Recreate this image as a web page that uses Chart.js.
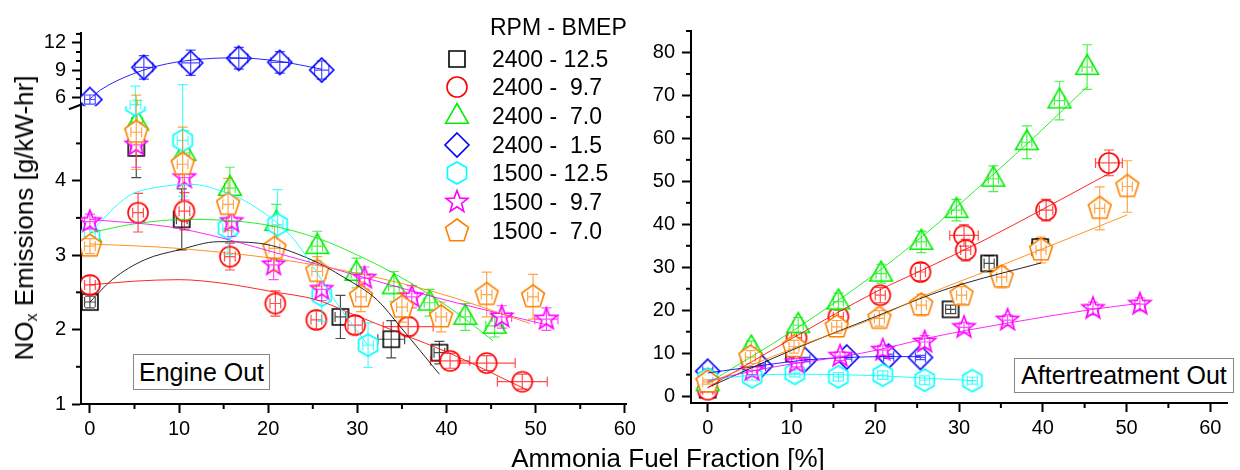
<!DOCTYPE html>
<html>
<head>
<meta charset="utf-8">
<script src="https://cdn.jsdelivr.net/npm/chart.js@4.4.1/dist/chart.umd.min.js"></script>
<style>
  body { margin: 0; background: #fff; width: 1240px; height: 470px; overflow: hidden; position: relative;
         font-family: "Liberation Sans", Arial, sans-serif; color: #000; }
  canvas { position: absolute; top: 0; }
  #eoCanvas { left: 0; }
  #atCanvas { left: 630px; }
  .ytitle { position: absolute; left: 25px; top: 218px; font-size: 26px; white-space: nowrap;
            transform: translate(-50%, -50%) rotate(-90deg); }
  .ytitle sub { font-size: 16px; vertical-align: -4px; }
  .xtitle { position: absolute; left: 668px; top: 458px; font-size: 26px; white-space: nowrap;
            transform: translate(-50%, -50%); }
  .box { position: absolute; box-sizing: border-box; border: 1px solid #888; background: #fff;
         font-size: 25px; display: flex; align-items: center; justify-content: center; white-space: nowrap; }
  .legText { position: absolute; font-size: 23px; white-space: pre; line-height: 28px; height: 28px; }
  .legMark { position: absolute; }
</style>
</head>
<body>
<canvas id="eoCanvas" width="640" height="445"></canvas>
<canvas id="atCanvas" width="610" height="445"></canvas>
<div class="ytitle">NO<sub>x</sub> Emissions [g/kW-hr]</div>
<div class="xtitle">Ammonia Fuel Fraction [%]</div>
<div class="box" style="left:133px;top:354px;width:137px;height:36px;">Engine Out</div>
<div class="box" style="left:1014px;top:358px;width:220px;height:35px;">Aftertreatment Out</div>
<div id="legend"></div>
<script>
// series (RPM - BMEP)
const legendTitle = 'RPM - BMEP';
const seriesLabels = ['2400 - 12.5', '2400 -  9.7', '2400 -  7.0', '2400 -  1.5', '1500 - 12.5', '1500 -  9.7', '1500 -  7.0'];
const seriesColors = ['#000000', '#ff0000', '#00ee00', '#0000ff', '#00ffff', '#ff00ff', '#ff8000'];
const seriesShapes = ['square', 'circle', 'triangle', 'diamond', 'hexagon', 'star', 'pentagon'];

// Engine out: [x, y, xErr, yErr]
const eo2400_125 = [[0,2.37,0.6,0.08],[5.2,4.44,0.6,0.4],[10.3,3.48,0.6,0.41],[28.1,2.17,0.6,0.29],[33.8,1.87,1.5,0.25],[39.2,1.69,0.6,0.15]];
const eo2400_97 = [[0,2.60,0.6,0.12],[5.4,3.57,0.6,0.26],[10.6,3.59,0.6,0.25],[15.7,2.98,0.6,0.18],[20.8,2.35,0.6,0.17],[25.4,2.13,0.6,0.12],[29.75,2.06,0.8,0.12],[35.7,2.04,2.8,0.12],[40.4,1.58,2.2,0.1],[44.5,1.55,3.2,0.1],[48.5,1.30,2.8,0.1]];
const eo2400_70 = [[0,3.28,0.6,0.15],[5.3,4.78,0.6,0.3],[10.6,4.37,0.6,0.3],[15.7,3.90,0.6,0.28],[20.9,3.43,0.6,0.25],[25.5,3.12,0.6,0.2],[29.9,2.76,0.6,0.2],[34.1,2.58,0.6,0.2],[38.1,2.36,0.6,0.18],[42.1,2.17,0.6,0.18],[45.4,2.05,1.0,0.15]];
const eo2400_15 = [[0,5.74,0.6,0.5],[6.05,9.3,1.0,1.3],[11.3,9.8,1.0,1.4],[16.7,10.3,1.0,1.2],[21.3,9.85,1.0,1.2],[26.0,9.0,0.8,1.0]];
const eo1500_125 = [[0,3.25,0.6,0.2],[5.1,5.02,0.6,0.25],[10.4,4.54,0.6,0.75],[15.5,3.36,0.6,0.35],[21.05,3.41,0.6,0.47],[26.0,2.46,0.6,0.35],[31.2,1.79,0.6,0.3]];
const eo1500_97 = [[0,3.45,0.6,0.1],[5.2,4.48,0.6,0.3],[10.6,4.04,0.6,0.3],[15.9,3.45,0.6,0.2],[20.6,2.87,0.6,0.2],[26.0,2.54,0.6,0.15],[30.8,2.69,0.6,0.15],[36.1,2.44,0.6,0.15],[46.2,2.17,1.1,0.15],[51.2,2.14,1.3,0.15]];
const eo1500_70 = [[0,3.12,0.6,0.1],[5.2,4.65,0.6,0.5],[10.4,4.22,0.6,0.5],[15.5,3.68,0.6,0.35],[20.7,3.09,0.6,0.3],[25.5,2.78,0.6,0.2],[30.4,2.44,0.6,0.2],[35.0,2.30,0.6,0.2],[39.4,2.17,0.6,0.2],[44.5,2.47,0.6,0.3],[49.7,2.44,0.6,0.3]];

// Engine out fit curves: [x, y]
const eoFit2400_125 = [[0,2.37],[2.5,2.67],[6.2,2.94],[10,3.07],[14.4,3.18],[18.9,3.16],[24.8,2.94],[28.5,2.70],[32.2,2.40],[34.8,2.04],[39.2,1.40]];
const eoFit2400_97 = [[0,2.60],[5,2.65],[10,2.67],[15,2.62],[20.4,2.51],[25.4,2.40],[29.2,2.22],[34.8,1.95],[40.4,1.68],[44.5,1.45],[49,1.19]];
const eoFit2400_70 = [[0,3.30],[5,3.42],[11,3.48],[19.6,3.41],[25.7,3.22],[30,3.0],[34,2.76],[38.5,2.44],[42,2.15],[45.2,1.85]];
const eoFit2400_15 = [[0,5.8],[1.2,6.8],[4.9,8.6],[8.7,9.7],[13.9,10.3],[16.5,10.35],[21,10.0],[26,9.1]];
const eoFit1500_125 = [[0,3.3],[4.3,3.79],[8,3.92],[11.4,3.95],[15,3.85],[18.1,3.68],[22.6,3.25],[25,2.85],[27.3,2.42],[31.1,1.80]];
const eoFit1500_97 = [[0,3.48],[9.9,3.36],[23.6,2.94],[38.5,2.44],[52,2.04]];
const eoFit1500_70 = [[0,3.15],[9.9,3.09],[23.6,2.90],[38.5,2.51],[49.4,2.08]];

// Aftertreatment out: [x, y, xErr, yErr]
const at2400_125 = [[0,1.5,0.6,0.5],[5.2,8,0.6,0.8],[10.3,10.0,0.6,1],[29.0,20.2,0.6,1],[33.6,30.9,0.6,1.8],[39.7,34.7,1.0,2]];
const at2400_97 = [[0,1.5,0.6,0.5],[5.2,8.5,0.6,1],[10.6,13.6,0.6,1.5],[15.6,18.5,0.6,1.5],[20.6,23.5,0.6,1.8],[25.4,28.9,0.6,2],[30.6,37.4,1.7,2.5],[30.8,34.0,0.6,2.5],[40.4,43.3,0.8,2.5],[47.9,54.3,1.6,3]];
const at2400_70 = [[0,3,0.6,0.5],[5.2,11.3,0.6,1.5],[10.8,16.5,0.6,1.8],[15.6,22,0.6,2],[20.7,28.5,0.6,2.2],[25.5,35.9,0.6,2.5],[29.7,43.3,0.6,2.5],[34.1,50.6,0.6,3],[38.1,59.1,0.6,3.8],[42.0,68.8,0.6,4.5],[45.3,76.6,0.6,5.2]];
const at2400_15 = [[0,5.8,0.6,0.5],[6.3,7.0,0.6,0.5],[11.6,8.5,0.6,0.5],[16.6,9.1,0.6,0.5],[21.6,9.3,0.6,0.5],[25.4,9.0,0.6,0.5]];
const at1500_125 = [[0,4.0,0.6,0.8],[5.3,4.5,0.6,0.8],[10.4,5.3,0.6,0.8],[15.6,4.5,0.6,1],[20.9,4.9,0.6,1],[25.9,3.7,0.6,1],[31.6,3.6,0.6,0.8]];
const at1500_97 = [[0,3,0.6,0.5],[5.3,6.0,0.6,1],[10.6,7.8,0.6,1],[15.8,9.3,0.6,1],[20.9,10.7,0.6,1.2],[25.9,12.6,0.6,1.5],[30.6,16.0,0.6,1.2],[35.8,17.7,0.6,1.2],[46.0,20.4,0.6,1.5],[51.6,21.4,0.6,1.5]];
const at1500_70 = [[0,3.3,0.6,0.5],[5.1,9.1,0.6,1.5],[10.3,11.5,0.6,1.5],[15.4,16.1,0.6,1.5],[20.5,18.1,0.6,1.8],[25.5,21.2,0.6,2.5],[30.3,23.5,0.6,2],[35.1,27.7,0.6,2.5],[39.8,34.0,0.6,3],[46.8,43.7,0.6,5],[50.1,48.8,0.6,6]];

// Aftertreatment out fit lines: [x, y]
const atFit2400_125 = [[0,2],[10.4,11],[20,18.5],[27,23.9],[30.6,26.2],[39.8,31]];
const atFit2400_97 = [[0,2],[10.4,13.8],[20.1,24.3],[26,29.7],[33,36.3],[40,43.5],[47.9,51.8]];
const atFit2400_70 = [[0,3],[10,15],[20,28.5],[26,37.8],[32,48],[38,58.5],[45.3,72]];
const atFit2400_15 = [[0,5.4],[6.3,7.1],[11.6,8.4],[16.6,9.0],[21.6,9.2],[25.4,9.2]];
const atFit1500_125 = [[0,3.8],[5,4.8],[10.4,5.1],[15.6,5.0],[20.9,4.7],[25.9,4.2],[31.6,3.6]];
const atFit1500_97 = [[0,3.5],[5,5.7],[10,7.5],[15.8,9.1],[20.9,11],[26,13.4],[35.8,17],[46,20.2],[51.6,21.6]];
const atFit1500_70 = [[0,3],[10.3,11.2],[20.5,18.6],[26,23.5],[35,30.4],[45.5,38.6],[50.1,42.2]];

// ticks
const xTicks = [0, 10, 20, 30, 40, 50, 60];
const xMinor = [5, 15, 25, 35, 45, 55];
const eoLowTicks = [1, 2, 3, 4];
const eoLowMinor = [1.5, 2.5, 3.5, 4.5];
const eoHighTicks = [6, 9, 12];
const eoHighMinor = [7, 8, 10, 11, 13];
const atYTicks = [0, 10, 20, 30, 40, 50, 60, 70, 80];
const atYMinor = [5, 15, 25, 35, 45, 55, 65, 75, 85];

const eoSeries = [eo2400_125, eo2400_97, eo2400_70, eo2400_15, eo1500_125, eo1500_97, eo1500_70];
const eoFits = [eoFit2400_125, eoFit2400_97, eoFit2400_70, eoFit2400_15, eoFit1500_125, eoFit1500_97, eoFit1500_70];
const atSeries = [at2400_125, at2400_97, at2400_70, at2400_15, at1500_125, at1500_97, at1500_70];
const atFits = [atFit2400_125, atFit2400_97, atFit2400_70, atFit2400_15, atFit1500_125, atFit1500_97, atFit1500_70];

Chart.defaults.font.family = '"Liberation Sans", Arial, sans-serif';
Chart.defaults.font.size = 20;
Chart.defaults.color = '#000';

function rgba(hex, a) {
  const n = parseInt(hex.slice(1), 16);
  return `rgba(${(n >> 16) & 255}, ${(n >> 8) & 255}, ${n & 255}, ${a})`;
}

// hollow marker symbols drawn once into small canvases
function makeMarker(shape, color) {
  const c = document.createElement('canvas');
  c.width = 28; c.height = 28;
  const g = c.getContext('2d');
  g.translate(14, 14);
  g.beginPath();
  const poly = (n, r, start, inner) => {
    const steps = inner ? n * 2 : n;
    for (let k = 0; k < steps; k++) {
      const rr = inner && k % 2 ? inner : r;
      const a = start + k * 2 * Math.PI / steps;
      const px = rr * Math.cos(a), py = rr * Math.sin(a);
      k ? g.lineTo(px, py) : g.moveTo(px, py);
    }
  };
  if (shape === 'square') g.rect(-8, -8, 16, 16);
  else if (shape === 'circle') g.arc(0, 0, 10, 0, 2 * Math.PI);
  else if (shape === 'triangle') { g.moveTo(0, -12.5); g.lineTo(11.3, 7.2); g.lineTo(-11.3, 7.2); }
  else if (shape === 'diamond') poly(4, 12, -Math.PI / 2);
  else if (shape === 'hexagon') poly(6, 11, -Math.PI / 2);
  else if (shape === 'star') poly(5, 11.5, -Math.PI / 2, 4.8);
  else if (shape === 'pentagon') poly(5, 12, -Math.PI / 2);
  g.closePath();
  g.fillStyle = '#fff';
  g.fill();
  g.lineWidth = 1.6;
  g.strokeStyle = color;
  g.stroke();
  return c;
}
const markers = seriesShapes.map((s, i) => makeMarker(s, seriesColors[i]));

// error bars drawn right after each scatter series, through the chart's scales
const errorBars = {
  id: 'errorBars',
  afterDatasetDraw(chart, args) {
    const ds = chart.data.datasets[args.index];
    if (!ds.errs) return;
    const xs = args.meta.xScale, ys = args.meta.yScale;
    const area = chart.chartArea;
    const ctx = chart.ctx;
    ctx.save();
    ctx.beginPath();
    ctx.rect(area.left, area.top, area.right - area.left, area.bottom - area.top);
    ctx.clip();
    ctx.strokeStyle = rgba(ds.baseColor, 0.7);
    ctx.lineWidth = 1.2;
    const cap = 5;
    ds.data.forEach((p, k) => {
      const [ex, ey] = ds.errs[k];
      const px = xs.getPixelForValue(p.x), py = ys.getPixelForValue(p.y);
      const x0 = xs.getPixelForValue(p.x - ex), x1 = xs.getPixelForValue(p.x + ex);
      const y0 = ys.getPixelForValue(p.y - ey), y1 = ys.getPixelForValue(p.y + ey);
      ctx.beginPath();
      ctx.moveTo(px, y0); ctx.lineTo(px, y1);
      ctx.moveTo(px - cap, y0); ctx.lineTo(px + cap, y0);
      ctx.moveTo(px - cap, y1); ctx.lineTo(px + cap, y1);
      ctx.moveTo(x0, py); ctx.lineTo(x1, py);
      ctx.moveTo(x0, py - cap); ctx.lineTo(x0, py + cap);
      ctx.moveTo(x1, py - cap); ctx.lineTo(x1, py + cap);
      ctx.stroke();
    });
    ctx.restore();
  }
};

// minor ticks (Chart.js has only one tick length)
function minorTicks(spec) {
  return {
    id: 'minorTicks',
    afterDraw(chart) {
      const ctx = chart.ctx;
      ctx.save();
      ctx.strokeStyle = '#000';
      ctx.lineWidth = 2;
      Object.entries(spec).forEach(([id, values]) => {
        const s = chart.scales[id];
        values.forEach(v => {
          if (v < s.min || v > s.max) return;
          const p = s.getPixelForValue(v);
          ctx.beginPath();
          if (s.isHorizontal()) { ctx.moveTo(p, s.top); ctx.lineTo(p, s.top + 5); }
          else { ctx.moveTo(s.right, p); ctx.lineTo(s.right - 5, p); }
          ctx.stroke();
        });
      });
      ctx.restore();
    }
  };
}

const axisBreak = {
  id: 'axisBreak',
  afterDraw(chart) {
    const s = chart.scales.yLo;
    const ctx = chart.ctx;
    ctx.save();
    ctx.strokeStyle = '#000';
    ctx.lineWidth = 2;
    ctx.beginPath();
    ctx.moveTo(s.right - 12, s.top + 3);
    ctx.lineTo(s.right + 1, s.top - 2);
    ctx.stroke();
    ctx.restore();
  }
};

function buildDatasets(series, fits, yIdFor) {
  const out = [];
  series.forEach((pts, i) => {
    out.push({
      type: 'scatter',
      label: seriesLabels[i],
      data: pts.map(p => ({ x: p[0], y: p[1] })),
      errs: pts.map(p => [p[2], p[3]]),
      baseColor: seriesColors[i],
      pointStyle: markers[i],
      pointRadius: 12,
      yAxisID: yIdFor(i),
      order: 20 - i
    });
  });
  fits.forEach((pts, i) => {
    out.push({
      type: 'line',
      label: seriesLabels[i] + ' fit',
      data: pts.map(p => ({ x: p[0], y: p[1] })),
      borderColor: rgba(seriesColors[i], 0.85),
      borderWidth: 1,
      pointRadius: 0,
      fill: false,
      cubicInterpolationMode: 'monotone',
      yAxisID: yIdFor(i),
      order: 7 - i
    });
  });
  return out;
}

function axisStyle(ticks, fitKey, fitVal, pad) {
  return {
    type: 'linear',
    afterBuildTicks: s => { s.ticks = ticks.map(v => ({ value: v })); },
    afterFit: s => { s[fitKey] = fitVal; },
    grid: { drawOnChartArea: false, drawTicks: true, tickLength: 9, tickWidth: 2, tickColor: '#000' },
    border: { display: true, width: 2, color: '#000' },
    ticks: { padding: pad, autoSkip: false, maxRotation: 0, font: { size: 20 } }
  };
}

const eoChart = new Chart(document.getElementById('eoCanvas'), {
  type: 'scatter',
  data: { datasets: buildDatasets(eoSeries, eoFits, i => (i === 3 ? 'yHi' : 'yLo')) },
  options: {
    responsive: false,
    animation: false,
    events: [],
    layout: { padding: { top: 33, right: 13, left: 0, bottom: 0 } },
    plugins: { legend: { display: false }, tooltip: { enabled: false } },
    scales: {
      x: Object.assign(axisStyle(xTicks, 'height', 41, 4), { position: 'bottom', min: -1, max: 60.2 }),
      yLo: Object.assign(axisStyle(eoLowTicks, 'width', 81, 6), { axis: 'y', position: 'left', stack: 'eo', stackWeight: 297, weight: 0, min: 1, max: 5 }),
      yHi: Object.assign(axisStyle(eoHighTicks, 'width', 81, 6), { axis: 'y', position: 'left', stack: 'eo', stackWeight: 73, weight: 1, min: 5, max: 13.1 })
    }
  },
  plugins: [errorBars, minorTicks({ x: xMinor, yLo: eoLowMinor, yHi: eoHighMinor }), axisBreak]
});

const atChart = new Chart(document.getElementById('atCanvas'), {
  type: 'scatter',
  data: { datasets: buildDatasets(atSeries, atFits, () => 'y') },
  options: {
    responsive: false,
    animation: false,
    events: [],
    layout: { padding: { top: 31, right: 3, left: 0, bottom: 0 } },
    plugins: { legend: { display: false }, tooltip: { enabled: false } },
    scales: {
      x: Object.assign(axisStyle(xTicks, 'height', 42, 4), { position: 'bottom', min: -2, max: 62 }),
      y: Object.assign(axisStyle(atYTicks, 'width', 61, 7), { position: 'left', min: -1.6, max: 85 })
    }
  },
  plugins: [errorBars, minorTicks({ x: xMinor, y: atYMinor })]
});

// legend
const legend = document.getElementById('legend');
const head = document.createElement('div');
head.className = 'legText';
head.style.left = '490px';
head.style.top = (27 - 14) + 'px';
head.textContent = legendTitle;
legend.appendChild(head);
seriesLabels.forEach((label, i) => {
  const cy = 58.5 + i * 28.7;
  const m = makeMarker(seriesShapes[i], seriesColors[i]);
  m.className = 'legMark';
  m.style.left = (457 - 14) + 'px';
  m.style.top = Math.round(cy - 14) + 'px';
  legend.appendChild(m);
  const t = document.createElement('div');
  t.className = 'legText';
  t.style.left = '492px';
  t.style.top = Math.round(cy - 14) + 'px';
  t.textContent = label;
  legend.appendChild(t);
});
</script>
</body>
</html>
